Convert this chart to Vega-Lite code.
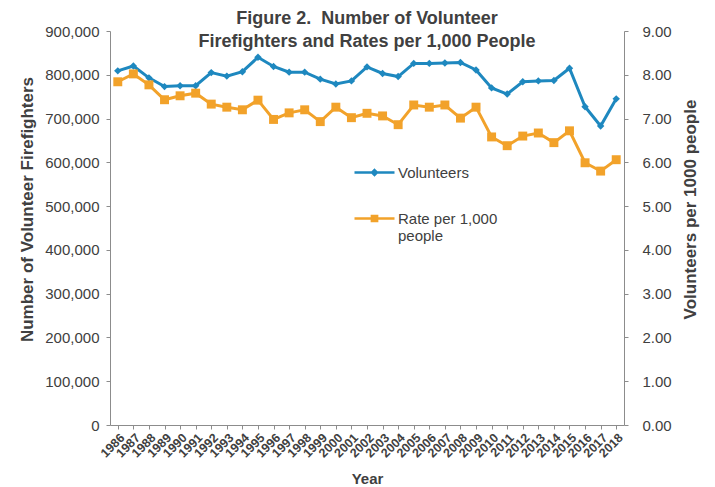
{
  "$schema": "https://vega.github.io/schema/vega-lite/v6.json",
  "width": 514,
  "height": 394,
  "autosize": {"type": "none"},
  "padding": {"left": 110, "top": 31, "right": 91, "bottom": 62},
  "background": "white",
  "config": {
    "view": {"stroke": null},
    "font": "Liberation Sans",
    "axis": {"grid": false, "domainColor": "#8c8c8c", "tickColor": "#8c8c8c", "labelColor": "#404040", "titleColor": "#404040", "labelFont": "Liberation Sans", "titleFont": "Liberation Sans"}
  },
  "title": {
    "text": ["Figure 2.\u00a0 Number of Volunteer", "Firefighters and Rates per 1,000 People"],
    "font": "Liberation Sans",
    "fontSize": 18,
    "fontWeight": "bold",
    "color": "#404040",
    "anchor": "middle",
    "lineHeight": 23,
    "offset": -27
  },
  "data": {
    "values": [
      {"year": "1986", "volunteers": 809000, "rate": 7.84},
      {"year": "1987", "volunteers": 820000, "rate": 8.02},
      {"year": "1988", "volunteers": 793000, "rate": 7.77},
      {"year": "1989", "volunteers": 773000, "rate": 7.43},
      {"year": "1990", "volunteers": 775000, "rate": 7.52},
      {"year": "1991", "volunteers": 775000, "rate": 7.58},
      {"year": "1992", "volunteers": 805000, "rate": 7.33},
      {"year": "1993", "volunteers": 797000, "rate": 7.26},
      {"year": "1994", "volunteers": 807000, "rate": 7.2},
      {"year": "1995", "volunteers": 840000, "rate": 7.42},
      {"year": "1996", "volunteers": 819000, "rate": 6.98},
      {"year": "1997", "volunteers": 806000, "rate": 7.13},
      {"year": "1998", "volunteers": 806000, "rate": 7.2},
      {"year": "1999", "volunteers": 790000, "rate": 6.93},
      {"year": "2000", "volunteers": 779000, "rate": 7.26},
      {"year": "2001", "volunteers": 786000, "rate": 7.02},
      {"year": "2002", "volunteers": 818000, "rate": 7.12},
      {"year": "2003", "volunteers": 803000, "rate": 7.06},
      {"year": "2004", "volunteers": 796000, "rate": 6.86},
      {"year": "2005", "volunteers": 826000, "rate": 7.31},
      {"year": "2006", "volunteers": 826000, "rate": 7.26},
      {"year": "2007", "volunteers": 827000, "rate": 7.31},
      {"year": "2008", "volunteers": 828000, "rate": 7.01},
      {"year": "2009", "volunteers": 811000, "rate": 7.26},
      {"year": "2010", "volunteers": 770000, "rate": 6.58},
      {"year": "2011", "volunteers": 756000, "rate": 6.38},
      {"year": "2012", "volunteers": 784000, "rate": 6.6},
      {"year": "2013", "volunteers": 786000, "rate": 6.67},
      {"year": "2014", "volunteers": 787000, "rate": 6.45},
      {"year": "2015", "volunteers": 815000, "rate": 6.72},
      {"year": "2016", "volunteers": 727000, "rate": 5.99},
      {"year": "2017", "volunteers": 683000, "rate": 5.8},
      {"year": "2018", "volunteers": 745000, "rate": 6.06}
    ]
  },
  "encoding": {
    "x": {
      "field": "year",
      "type": "ordinal",
      "scale": {"type": "point", "padding": 0.5},
      "axis": {
        "title": "Year",
        "titleFontSize": 15,
        "titleFontWeight": "bold",
        "titlePadding": 12,
        "labelAngle": -45,
        "labelFontSize": 12.5,
        "labelFontWeight": "bold",
        "labelColor": "#404040",
        "labelPadding": 2,
        "labelOverlap": false,
        "tickSize": 4
      }
    }
  },
  "layer": [
    {
      "mark": {"type": "line", "strokeWidth": 3, "point": {"shape": "diamond", "size": 55, "filled": true}},
      "encoding": {
        "y": {
          "field": "volunteers",
          "type": "quantitative",
          "scale": {"domain": [0, 900000], "nice": false},
          "axis": {
            "title": "Number of Volunteer Firefighters",
            "titleFontSize": 17,
            "titleFontWeight": "bold",
            "titlePadding": 8,
            "titleY": 178,
            "format": ",.0f",
            "values": [0, 100000, 200000, 300000, 400000, 500000, 600000, 700000, 800000, 900000],
            "labelFontSize": 15,
            "labelPadding": 7,
            "tickSize": 4
          }
        },
        "color": {
          "datum": "Volunteers",
          "type": "nominal",
          "scale": {"domain": ["Volunteers", "Rate"], "range": ["#1E88BF", "#F2A22A"]},
          "legend": {
            "title": null,
            "orient": "none",
            "legendX": 243,
            "legendY": 120,
            "labelFontSize": 15,
            "labelColor": "#404040",
            "rowPadding": 16,
            "symbolType": "M-1,0L1,0M0,-0.2L0.2,0L0,0.2L-0.2,0Z",
            "symbolSize": 1600,
            "symbolStrokeWidth": 2.5,
            "labelOffset": 2,
            "labelExpr": "datum.label == 'Rate' ? ['Rate per 1,000', 'people'] : datum.label",
            "labelBaseline": "middle",
            "encode": {
              "symbols": {
                "update": {
                  "fill": {"scale": "color", "field": "value"},
                  "shape": {"signal": "datum.value == 'Rate' ? 'M-1,0L1,0M-0.13,-0.13L0.13,-0.13L0.13,0.13L-0.13,0.13Z' : 'M-1,0L1,0M0,-0.12L0.12,0L0,0.12L-0.12,0Z'"}
                }
              }
            }
          }
        }
      }
    },
    {
      "mark": {"type": "line", "strokeWidth": 3, "point": {"shape": "square", "size": 80, "filled": true}},
      "encoding": {
        "y": {
          "field": "rate",
          "type": "quantitative",
          "scale": {"domain": [0, 9], "nice": false},
          "axis": {
            "orient": "right",
            "title": "Volunteers per 1000 people",
            "titleFontSize": 17,
            "titleFontWeight": "bold",
            "titleAngle": 270,
            "titlePadding": 28,
            "titleY": 178,
            "format": ".2f",
            "values": [0, 1, 2, 3, 4, 5, 6, 7, 8, 9],
            "labelFontSize": 15,
            "labelPadding": 14,
            "tickSize": 4
          }
        },
        "color": {"datum": "Rate", "type": "nominal"}
      }
    }
  ],
  "resolve": {"scale": {"y": "independent"}}
}
